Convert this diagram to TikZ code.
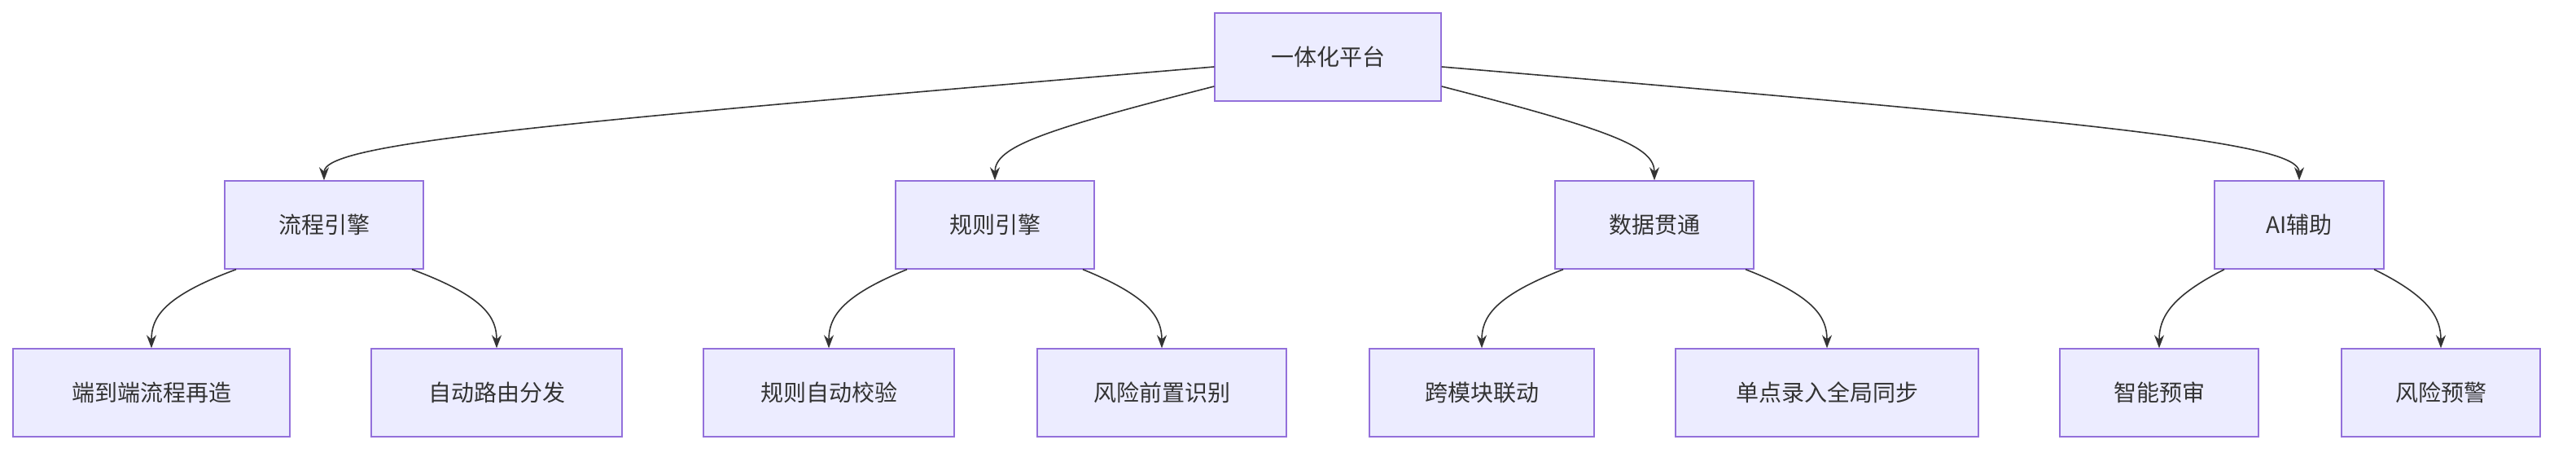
\documentclass[tikz,border=0pt]{standalone}
\usepackage{fontspec}
\setmainfont{Noto Sans CJK SC}
\usetikzlibrary{arrows.meta}
\definecolor{boxfill}{HTML}{ECECFF}
\definecolor{boxline}{HTML}{9370DB}
\definecolor{edgeline}{HTML}{333333}
\tikzset{every picture/.style={line width=0.75pt}}
\tikzset{
  box/.style={draw=boxline,fill=boxfill,line width=0.7pt,minimum height=54,inner sep=0pt,font=\fontsize{14}{16}\selectfont,text=edgeline},
  edge/.style={draw=edgeline,line width=0.8pt,-{Stealth[length=8,width=6]}}
}
\begin{document}
\begin{tikzpicture}[x=1pt,y=1pt,yscale=-1]
\useasboundingbox (0,0) rectangle (1582,278);

% top level
\node[box,minimum width=139] (root) at (815.5,35) {一体化平台};

% second level
\node[box,minimum width=122] (flow) at (199,138) {流程引擎};
\node[box,minimum width=122] (rule) at (611,138) {规则引擎};
\node[box,minimum width=122] (data) at (1016,138) {数据贯通};
\node[box,minimum width=104] (ai) at (1412,138) {AI辅助};

% third level
\node[box,minimum width=170] (e2e) at (93,241) {端到端流程再造};
\node[box,minimum width=154] (route) at (305,241) {自动路由分发};
\node[box,minimum width=154] (check) at (509,241) {规则自动校验};
\node[box,minimum width=153] (risk) at (713.5,241) {风险前置识别};
\node[box,minimum width=138] (cross) at (910,241) {跨模块联动};
\node[box,minimum width=186] (sync) at (1122,241) {单点录入全局同步};
\node[box,minimum width=122] (prerev) at (1326,241) {智能预审};
\node[box,minimum width=122] (warn) at (1499,241) {风险预警};

% edges from root
\draw[edge] ([yshift=6]root.west) .. controls (330,76) and (199,88) .. (flow.north);
\draw[edge] ([yshift=18]root.west) .. controls (640,80) and (611,90) .. (rule.north);
\draw[edge] ([yshift=18]root.east) .. controls (990,80) and (1016,90) .. (data.north);
\draw[edge] ([yshift=6]root.east) .. controls (1300,76) and (1412,88) .. (ai.north);

% edges to leaves
\draw[edge] ([xshift=-54]flow.south) .. controls (100,182) and (93,195) .. (e2e.north);
\draw[edge] ([xshift=54]flow.south) .. controls (298,182) and (305,195) .. (route.north);
\draw[edge] ([xshift=-54]rule.south) .. controls (516,182) and (509,195) .. (check.north);
\draw[edge] ([xshift=54]rule.south) .. controls (706,182) and (713.5,195) .. (risk.north);
\draw[edge] ([xshift=-56]data.south) .. controls (917,182) and (910,195) .. (cross.north);
\draw[edge] ([xshift=56]data.south) .. controls (1115,182) and (1122,195) .. (sync.north);
\draw[edge] ([xshift=-46]ai.south) .. controls (1333,182) and (1326,195) .. (prerev.north);
\draw[edge] ([xshift=46]ai.south) .. controls (1492,182) and (1499,195) .. (warn.north);
\end{tikzpicture}
\end{document}
